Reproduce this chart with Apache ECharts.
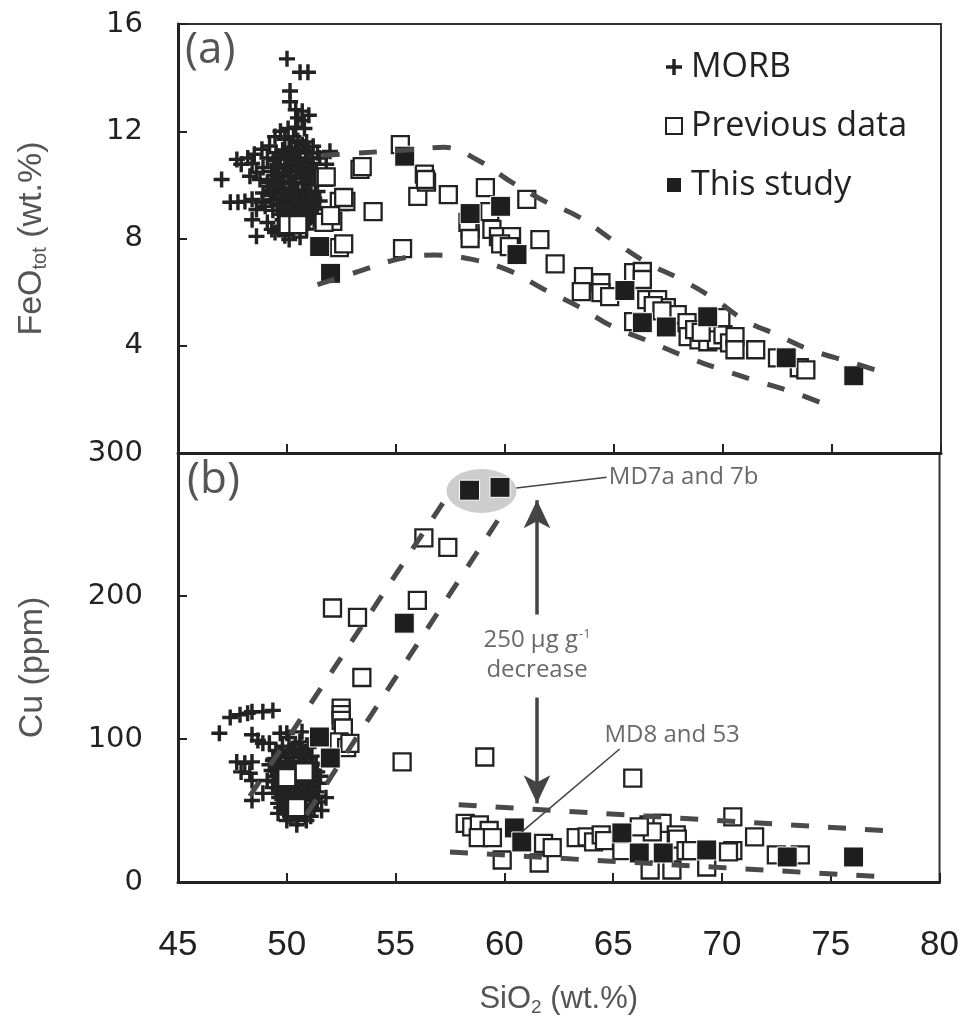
<!DOCTYPE html>
<html><head><meta charset="utf-8">
<script src="https://cdn.jsdelivr.net/npm/echarts@6/dist/echarts.min.js"></script>
<style>html,body{margin:0;padding:0;background:#fff}#c{width:962px;height:1027px}</style>
</head><body><div id="c"></div><script>
// ---------- data ----------
const xTicks = [45, 50, 55, 60, 65, 70, 75, 80];
const feoTicks = [0, 4, 8, 12, 16];
const cuTicks = [0, 100, 200, 300];

// Panel (a): SiO2 vs FeOtot
const morbA = [
 [50.0,14.7],[50.6,14.2],[50.96,14.2],[50.14,13.5],[50.14,13.1],[50.4,12.8],[50.7,12.75],[51.0,12.6],
 [50.5,12.5],[50.7,12.4],[50.4,12.15],[50.05,12.1],[49.7,12.0],[50.8,12.1],[49.45,11.8],[49.9,11.7],
 [50.3,11.8],[49.2,11.45],[48.85,11.33],[48.5,11.14],[48.2,11.0],[47.7,10.95],[47.9,10.77],[48.4,10.8],
 [48.9,10.65],[48.6,10.47],[48.3,10.32],[48.76,10.2],[49.1,10.1],[47.0,10.2],[51.4,11.2],[51.97,11.25],
 [51.8,10.77],[51.2,11.44],[51.5,11.0],[47.4,9.35],[47.75,9.35],[48.07,9.38],[48.4,9.46],[48.85,9.35],
 [48.6,9.08],[49.0,9.2],[48.4,8.7],[49.1,8.6],[49.3,8.34],[48.6,8.08],[50.1,7.96],[49.45,8.22],
 [49.5,11.2],[49.8,11.3],[50.1,11.4],[50.4,11.3],[50.7,11.5],[51.0,11.2],[49.4,10.9],[49.7,10.95],
 [50.0,11.0],[50.3,10.9],[50.6,11.0],[50.9,10.85],[51.2,10.8],[49.3,10.5],[49.6,10.6],[49.9,10.65],
 [50.2,10.5],[50.5,10.6],[50.8,10.5],[51.1,10.4],[49.5,10.2],[49.8,10.3],[50.1,10.15],[50.4,10.25],
 [50.7,10.1],[51.0,10.2],[51.3,10.0],[49.3,9.8],[49.6,9.9],[49.9,9.8],[50.2,9.85],[50.5,9.7],
 [50.8,9.8],[51.1,9.65],[51.4,9.75],[49.4,9.45],[49.7,9.5],[50.0,9.4],[50.3,9.5],[50.6,9.35],
 [50.9,9.45],[51.2,9.3],[49.6,9.05],[49.9,9.1],[50.2,9.0],[50.5,9.1],[50.8,8.95],[51.1,9.0],
 [49.8,8.7],[50.1,8.75],[50.4,8.65],[50.7,8.7],[51.0,8.6],[49.6,8.4],[50.3,8.3],[50.9,8.35],
 [49.9,8.1],[50.6,8.05],[51.3,8.9],[51.5,9.4],[51.6,10.3],[49.1,11.0],[48.9,9.7],[49.2,9.95],
 [49.65,11.05],[49.95,11.15],[50.25,11.1],[50.55,11.2],[50.85,11.3],[51.15,11.0],[49.55,10.75],[49.85,10.45],
 [50.15,10.75],[50.45,10.8],[50.75,10.7],[51.05,10.6],[51.35,10.5],[49.45,10.35],[49.75,10.05],[50.05,10.35],
 [50.35,10.05],[50.65,10.35],[50.95,10.05],[51.25,10.25],[49.45,10.0],[49.75,9.7],[50.05,9.65],[50.35,9.75],
 [50.65,9.55],[50.95,9.65],[51.25,9.5],[49.55,9.25],[49.85,9.3],[50.15,9.2],[50.45,9.3],[50.75,9.15],
 [51.05,9.25],[51.35,9.1],[49.75,8.9],[50.05,8.95],[50.35,8.85],[50.65,8.9],[50.95,8.8],[51.25,8.7],
 [50.2,8.5],[50.8,8.55],[50.5,8.45],[49.35,9.05],[49.25,9.6],[50.9,11.6],[50.5,11.65],[50.2,11.3]
];
const prevA = [
 [55.2,11.5],[53.35,10.58],[53.45,10.68],[51.7,10.28],[51.8,10.3],[53.95,9.0],[56.0,9.57],[56.3,10.4],
 [56.4,10.1],[56.35,10.2],[57.4,9.64],[59.1,9.9],[61.0,9.46],[52.1,8.64],[52.4,9.38],[52.7,9.38],
 [52.6,9.53],[50.05,8.52],[50.5,8.52],[51.7,8.6],[52.0,8.85],[52.4,7.66],[52.6,7.8],[55.3,7.62],
 [58.4,8.34],[58.3,8.6],[59.4,8.34],[59.7,8.07],[60.3,8.07],[61.6,7.96],[62.3,7.05],[59.8,7.8],
 [60.2,7.7],[58.4,8.0],[59.3,9.0],
 [63.6,6.58],[63.5,6.02],[64.4,6.35],[64.4,5.98],[64.8,5.83],[65.9,6.73],[66.3,6.77],[66.3,6.47],
 [66.5,5.72],[67.0,5.72],[67.4,5.42],[67.9,5.16],[65.9,4.9],[68.35,4.86],[68.4,4.34],[68.9,4.22],
 [69.3,4.15],[69.7,4.22],[70.0,4.41],[70.3,4.11],[70.55,4.34],[70.55,3.85],[71.5,3.85],[69.9,5.05],
 [73.5,3.18],[73.8,3.1],[72.5,3.55],[66.8,5.5],[67.2,5.3],[68.7,4.6],[69.0,4.5]
];
const studyA = [
 [55.4,11.07],[51.5,7.7],[52.0,6.7],[58.4,8.93],[59.8,9.2],[60.55,7.4],
 [65.5,6.06],[66.3,4.86],[67.4,4.7],[69.3,5.08],[72.9,3.55],[76.0,2.88]
];
const upperA = [
 [51.6,11.1],[53.5,11.2],[55.5,11.3],[57.2,11.4],[58.8,10.9],[60.3,10.1],[61.8,9.4],[63.4,8.8],
 [65.0,7.9],[66.5,7.1],[68.0,6.5],[69.5,5.8],[71.0,4.95],[72.5,4.4],[74.0,3.85],[75.8,3.4],[77.0,3.1]
];
const lowerA = [
 [51.4,6.28],[53.4,6.8],[55.2,7.25],[56.8,7.38],[58.5,7.22],[60.2,6.8],[61.8,6.1],[63.4,5.45],
 [64.9,4.73],[66.5,4.2],[68.1,3.65],[69.8,3.15],[71.4,2.72],[73.1,2.3],[75.1,1.68]
];

// Panel (b): SiO2 vs Cu
const morbB = [
 [47.4,115],[47.85,117],[48.2,118],[48.4,119],[48.9,119],[49.36,120],[46.9,104],[48.4,103],
 [48.67,99],[48.9,97],[49.2,97],[49.7,104],[50.0,104],[50.1,101],[50.7,105],[47.7,84],
 [48.07,83],[48.4,84],[47.9,77],[48.3,76],[48.4,71],[48.4,57],[51.8,59],[51.4,56],
 [49.36,85],[49.1,71],[48.9,62],[50.0,43],[50.46,40],[50.9,43],[49.6,48],[51.2,100],
 [49.5,92],[49.8,95],[50.1,90],[50.4,96],[50.7,92],[51.0,94],[49.4,86],[49.7,88],
 [50.0,84],[50.3,87],[50.6,83],[50.9,86],[51.2,82],[49.3,78],[49.6,80],[49.9,76],
 [50.2,79],[50.5,75],[50.8,78],[51.1,74],[51.4,77],[49.4,70],[49.7,72],[50.0,68],
 [50.3,71],[50.6,67],[50.9,70],[51.2,66],[51.5,69],[49.5,62],[49.8,64],[50.1,60],
 [50.4,63],[50.7,59],[51.0,62],[51.3,58],[49.6,55],[49.9,57],[50.2,53],[50.5,56],
 [50.8,52],[51.1,54],[51.6,50],[49.9,49],[50.3,47],[50.7,48],[51.1,46],[50.5,44],
 [49.65,90],[49.95,87],[50.25,93],[50.55,89],[50.85,91],[51.15,88],[49.55,82],[49.85,80],
 [50.15,82],[50.45,80],[50.75,84],[51.05,79],[51.35,83],[49.45,74],[49.75,76],[50.05,73],
 [50.35,75],[50.65,72],[50.95,74],[51.25,71],[49.55,66],[49.85,68],[50.15,65],[50.45,68],
 [50.75,64],[51.05,67],[51.35,63],[49.65,59],[49.95,61],[50.25,58],[50.55,61],[50.85,57],
 [51.15,59],[51.45,60],[49.75,52],[50.05,54],[50.35,51],[50.65,53],[50.95,50],[51.25,51],
 [50.15,46],[50.85,46],[49.35,66],[51.55,74],[50.6,98],[49.2,82]
];
const prevB = [
 [56.3,240.6],[57.4,234],[52.1,191.6],[53.25,185],[56.0,197],[53.45,143],[52.5,121.6],[52.5,117],
 [52.5,113],[52.6,107.7],[52.4,98],[52.75,94],[52.9,97],[55.3,84],[59.1,87.4],[50.8,77],
 [50.0,73],[50.45,52],[65.9,72.7],
 [58.2,41],[58.5,38.5],[58.85,40],[59.3,36],[58.8,31],[59.45,31],[59.9,15.4],[61.6,13.3],
 [61.8,27],[62.2,24],[63.3,31],[63.8,31.5],[64.1,28],[64.45,33],[64.6,29],[66.65,40],
 [66.97,41],[67.25,41],[66.8,35],[67.9,33],[67.95,30],[66.7,8.4],[67.7,8.4],[69.3,10.5],
 [70.5,45.5],[70.5,22],[71.5,31.5],[68.35,22],[68.6,22],[66.2,38.5],[73.6,19],[72.5,19],
 [65.4,22],[70.3,21]
];
const studyB = [
 [58.4,274],[59.8,276],[55.4,181],[51.5,101.4],[52.0,86.7],[60.46,37.8],[60.8,28],
 [65.4,34.3],[66.2,20.3],[67.3,20.3],[69.3,22.4],[73.0,17.5],[76.05,17.5]
];
const funnelLeft = [[48.3,60],[57.3,268]];
const funnelRight = [[50.9,47],[60.0,260]];
const flatUpper = [[57.9,54],[77.4,36]];
const flatLower = [[57.5,21],[77.5,3.5]];

// annotations (data coordinates)
const ellipseMD7 = [[58.95,273.4]];
const leaderMD7 = [[60.55,275.5],[64.7,283]];
const leaderMD8 = [[65.3,93],[60.8,35]];
const arrowUp = [[61.5,187],[61.5,267]];
const arrowDown = [[61.5,129],[61.5,55]];
const notes = [
 {value:[64.8,283], text:'MD7a and 7b', align:'left'},
 {value:[64.6,103], text:'MD8 and 53', align:'left'},
 {value:[61.5,169], text:'250 µg g{sup|-1}', align:'center'},
 {value:[61.5,148], text:'decrease', align:'center'}
];

// ---------- chart ----------
const FONT_NARROW = '"Liberation Sans Narrow", "Liberation Sans", sans-serif';
const FONT_SANS = '"Open Sans", "Noto Sans", sans-serif';
const FONT_TICK = '"DejaVu Sans", sans-serif';
const INK = '#222';
const crossPath = 'path://M0,5.5H14V8.5H0Z M5.5,0H8.5V14H5.5Z';
const dashStyle = {color:'#4a4a4a', width:5, type:[18,19], cap:'butt'};

const chart = echarts.init(document.getElementById('c'), null, {renderer:'canvas'});

function xAxis(grid, showLabels) {
  return {
    type:'value', gridIndex:grid, min:45, max:80, interval:5,
    axisLine:{show:true, onZero:false, lineStyle:{color:INK, width:3}},
    axisTick:{show:true, inside:true, length:9, lineStyle:{color:INK, width:2}},
    splitLine:{show:false},
    axisLabel:{show:showLabels, margin:46, fontFamily:FONT_NARROW, fontSize:35, color:INK},
    name: showLabels ? 'SiO{sub|2} (wt.%)' : '',
    nameLocation:'middle', nameGap:100,
    nameTextStyle:{fontFamily:FONT_NARROW, fontSize:31, color:'#555',
      rich:{sub:{fontFamily:FONT_NARROW, fontSize:19, color:'#555', padding:[16,0,0,0]}}}
  };
}

const option = {
  animation:false,
  backgroundColor:'#fff',
  grid:[
    {left:178, top:24, width:763, height:429, show:true, borderColor:'#333', borderWidth:2, backgroundColor:'transparent'},
    {left:178, top:453, width:763, height:429, show:true, borderColor:'#333', borderWidth:2, backgroundColor:'transparent'}
  ],
  xAxis:[ xAxis(0,false), xAxis(1,true) ],
  yAxis:[
    {type:'value', gridIndex:0, min:0, max:16, interval:4,
     axisLine:{show:true, onZero:false, lineStyle:{color:INK, width:3}},
     axisTick:{show:true, inside:true, length:9, lineStyle:{color:INK, width:2}},
     splitLine:{show:false},
     axisLabel:{margin:35, fontFamily:FONT_TICK, fontSize:29, color:INK,
       formatter:v => (v === 0 ? '' : String(v))},
     name:'FeO{sub|tot} (wt.%)', nameLocation:'middle', nameRotate:90, nameGap:128,
     nameTextStyle:{fontFamily:FONT_NARROW, fontSize:34, color:'#555',
       rich:{sub:{fontFamily:FONT_NARROW, fontSize:20, color:'#555', padding:[16,0,0,0]}}}},
    {type:'value', gridIndex:1, min:0, max:300, interval:100,
     axisLine:{show:true, onZero:false, lineStyle:{color:INK, width:3}},
     axisTick:{show:true, inside:true, length:9, lineStyle:{color:INK, width:2}},
     splitLine:{show:false},
     axisLabel:{margin:35, fontFamily:FONT_TICK, fontSize:29, color:INK},
     name:'Cu (ppm)', nameLocation:'middle', nameRotate:90, nameGap:128,
     nameTextStyle:{fontFamily:FONT_NARROW, fontSize:34, color:'#555'}}
  ],
  legend:{
    data:['MORB','Previous data','This study'],
    orient:'vertical', left:660, top:45, itemGap:25, itemWidth:16, itemHeight:16,
    textStyle:{fontFamily:FONT_SANS, fontSize:34, color:INK, lineHeight:34, padding:[0,0,0,4]},
    selectedMode:false
  },
  graphic:[
    {type:'text', left:185, top:28, style:{text:'(a)', fontFamily:FONT_SANS, fontSize:44, fill:'#555'}},
    {type:'text', left:187, top:458, style:{text:'(b)', fontFamily:FONT_SANS, fontSize:44, fill:'#555'}}
  ],
  series:[
    {type:'scatter', name:'ellipse', xAxisIndex:1, yAxisIndex:1, data:ellipseMD7,
     symbol:'circle', symbolSize:[70,44], itemStyle:{color:'#cdcdcd', opacity:1}, silent:true, z:1,
     markLine:{silent:true, symbol:['none','none'], label:{show:false},
       lineStyle:{color:'#444', width:1.6, type:'solid'},
       data:[
         [{coord:leaderMD7[0]},{coord:leaderMD7[1]}],
         [{coord:leaderMD8[0]},{coord:leaderMD8[1]}]
       ]}},
    {type:'scatter', name:'arrows', xAxisIndex:1, yAxisIndex:1, data:[], silent:true,
     markLine:{silent:true, symbol:['none','arrow'], symbolSize:[20,28], label:{show:false},
       lineStyle:{color:'#444', width:3.5, type:'solid'},
       data:[
         [{coord:arrowUp[0]},{coord:arrowUp[1]}],
         [{coord:arrowDown[0]},{coord:arrowDown[1]}]
       ]}},
    {type:'scatter', name:'MORB', xAxisIndex:0, yAxisIndex:0, data:morbA,
     symbol:crossPath, symbolSize:16, itemStyle:{color:INK, opacity:1}, z:2},
    {type:'scatter', name:'MORB', xAxisIndex:1, yAxisIndex:1, data:morbB,
     symbol:crossPath, symbolSize:16, itemStyle:{color:INK, opacity:1}, z:2},
    {type:'scatter', name:'Previous data', xAxisIndex:0, yAxisIndex:0, data:prevA,
     symbol:'rect', symbolSize:17, itemStyle:{color:'#fff', borderColor:INK, borderWidth:2.3, opacity:1}, z:3},
    {type:'scatter', name:'Previous data', xAxisIndex:1, yAxisIndex:1, data:prevB,
     symbol:'rect', symbolSize:17, itemStyle:{color:'#fff', borderColor:INK, borderWidth:2.3, opacity:1}, z:3},
    {type:'scatter', name:'This study', xAxisIndex:0, yAxisIndex:0, data:studyA,
     symbol:'rect', symbolSize:20, itemStyle:{color:'#1e1e1e', borderColor:'#fff', borderWidth:1, opacity:1}, z:4},
    {type:'scatter', name:'This study', xAxisIndex:1, yAxisIndex:1, data:studyB,
     symbol:'rect', symbolSize:20, itemStyle:{color:'#1e1e1e', borderColor:'#fff', borderWidth:1, opacity:1}, z:4},
    {type:'line', name:'upperA', xAxisIndex:0, yAxisIndex:0, data:upperA, smooth:0.4,
     showSymbol:false, lineStyle:dashStyle, z:5, silent:true},
    {type:'line', name:'lowerA', xAxisIndex:0, yAxisIndex:0, data:lowerA, smooth:0.4,
     showSymbol:false, lineStyle:dashStyle, z:5, silent:true},
    {type:'line', name:'funnelLeft', xAxisIndex:1, yAxisIndex:1, data:funnelLeft,
     showSymbol:false, lineStyle:dashStyle, z:5, silent:true},
    {type:'line', name:'funnelRight', xAxisIndex:1, yAxisIndex:1, data:funnelRight,
     showSymbol:false, lineStyle:dashStyle, z:5, silent:true},
    {type:'line', name:'flatUpper', xAxisIndex:1, yAxisIndex:1, data:flatUpper,
     showSymbol:false, lineStyle:dashStyle, z:5, silent:true},
    {type:'line', name:'flatLower', xAxisIndex:1, yAxisIndex:1, data:flatLower,
     showSymbol:false, lineStyle:dashStyle, z:5, silent:true},
    {type:'scatter', name:'notes', xAxisIndex:1, yAxisIndex:1, silent:true, z:6,
     symbolSize:1, itemStyle:{color:'rgba(0,0,0,0)'},
     data:notes.map(n => ({value:n.value, label:{show:true, formatter:n.text, align:n.align}})),
     label:{show:true, position:'inside', verticalAlign:'middle', fontFamily:FONT_SANS, fontSize:24, color:'#444',
       rich:{sup:{fontFamily:FONT_SANS, fontSize:13, color:'#444', padding:[0,0,12,1]}}}}
  ]
};
chart.setOption(option);
</script></body></html>
